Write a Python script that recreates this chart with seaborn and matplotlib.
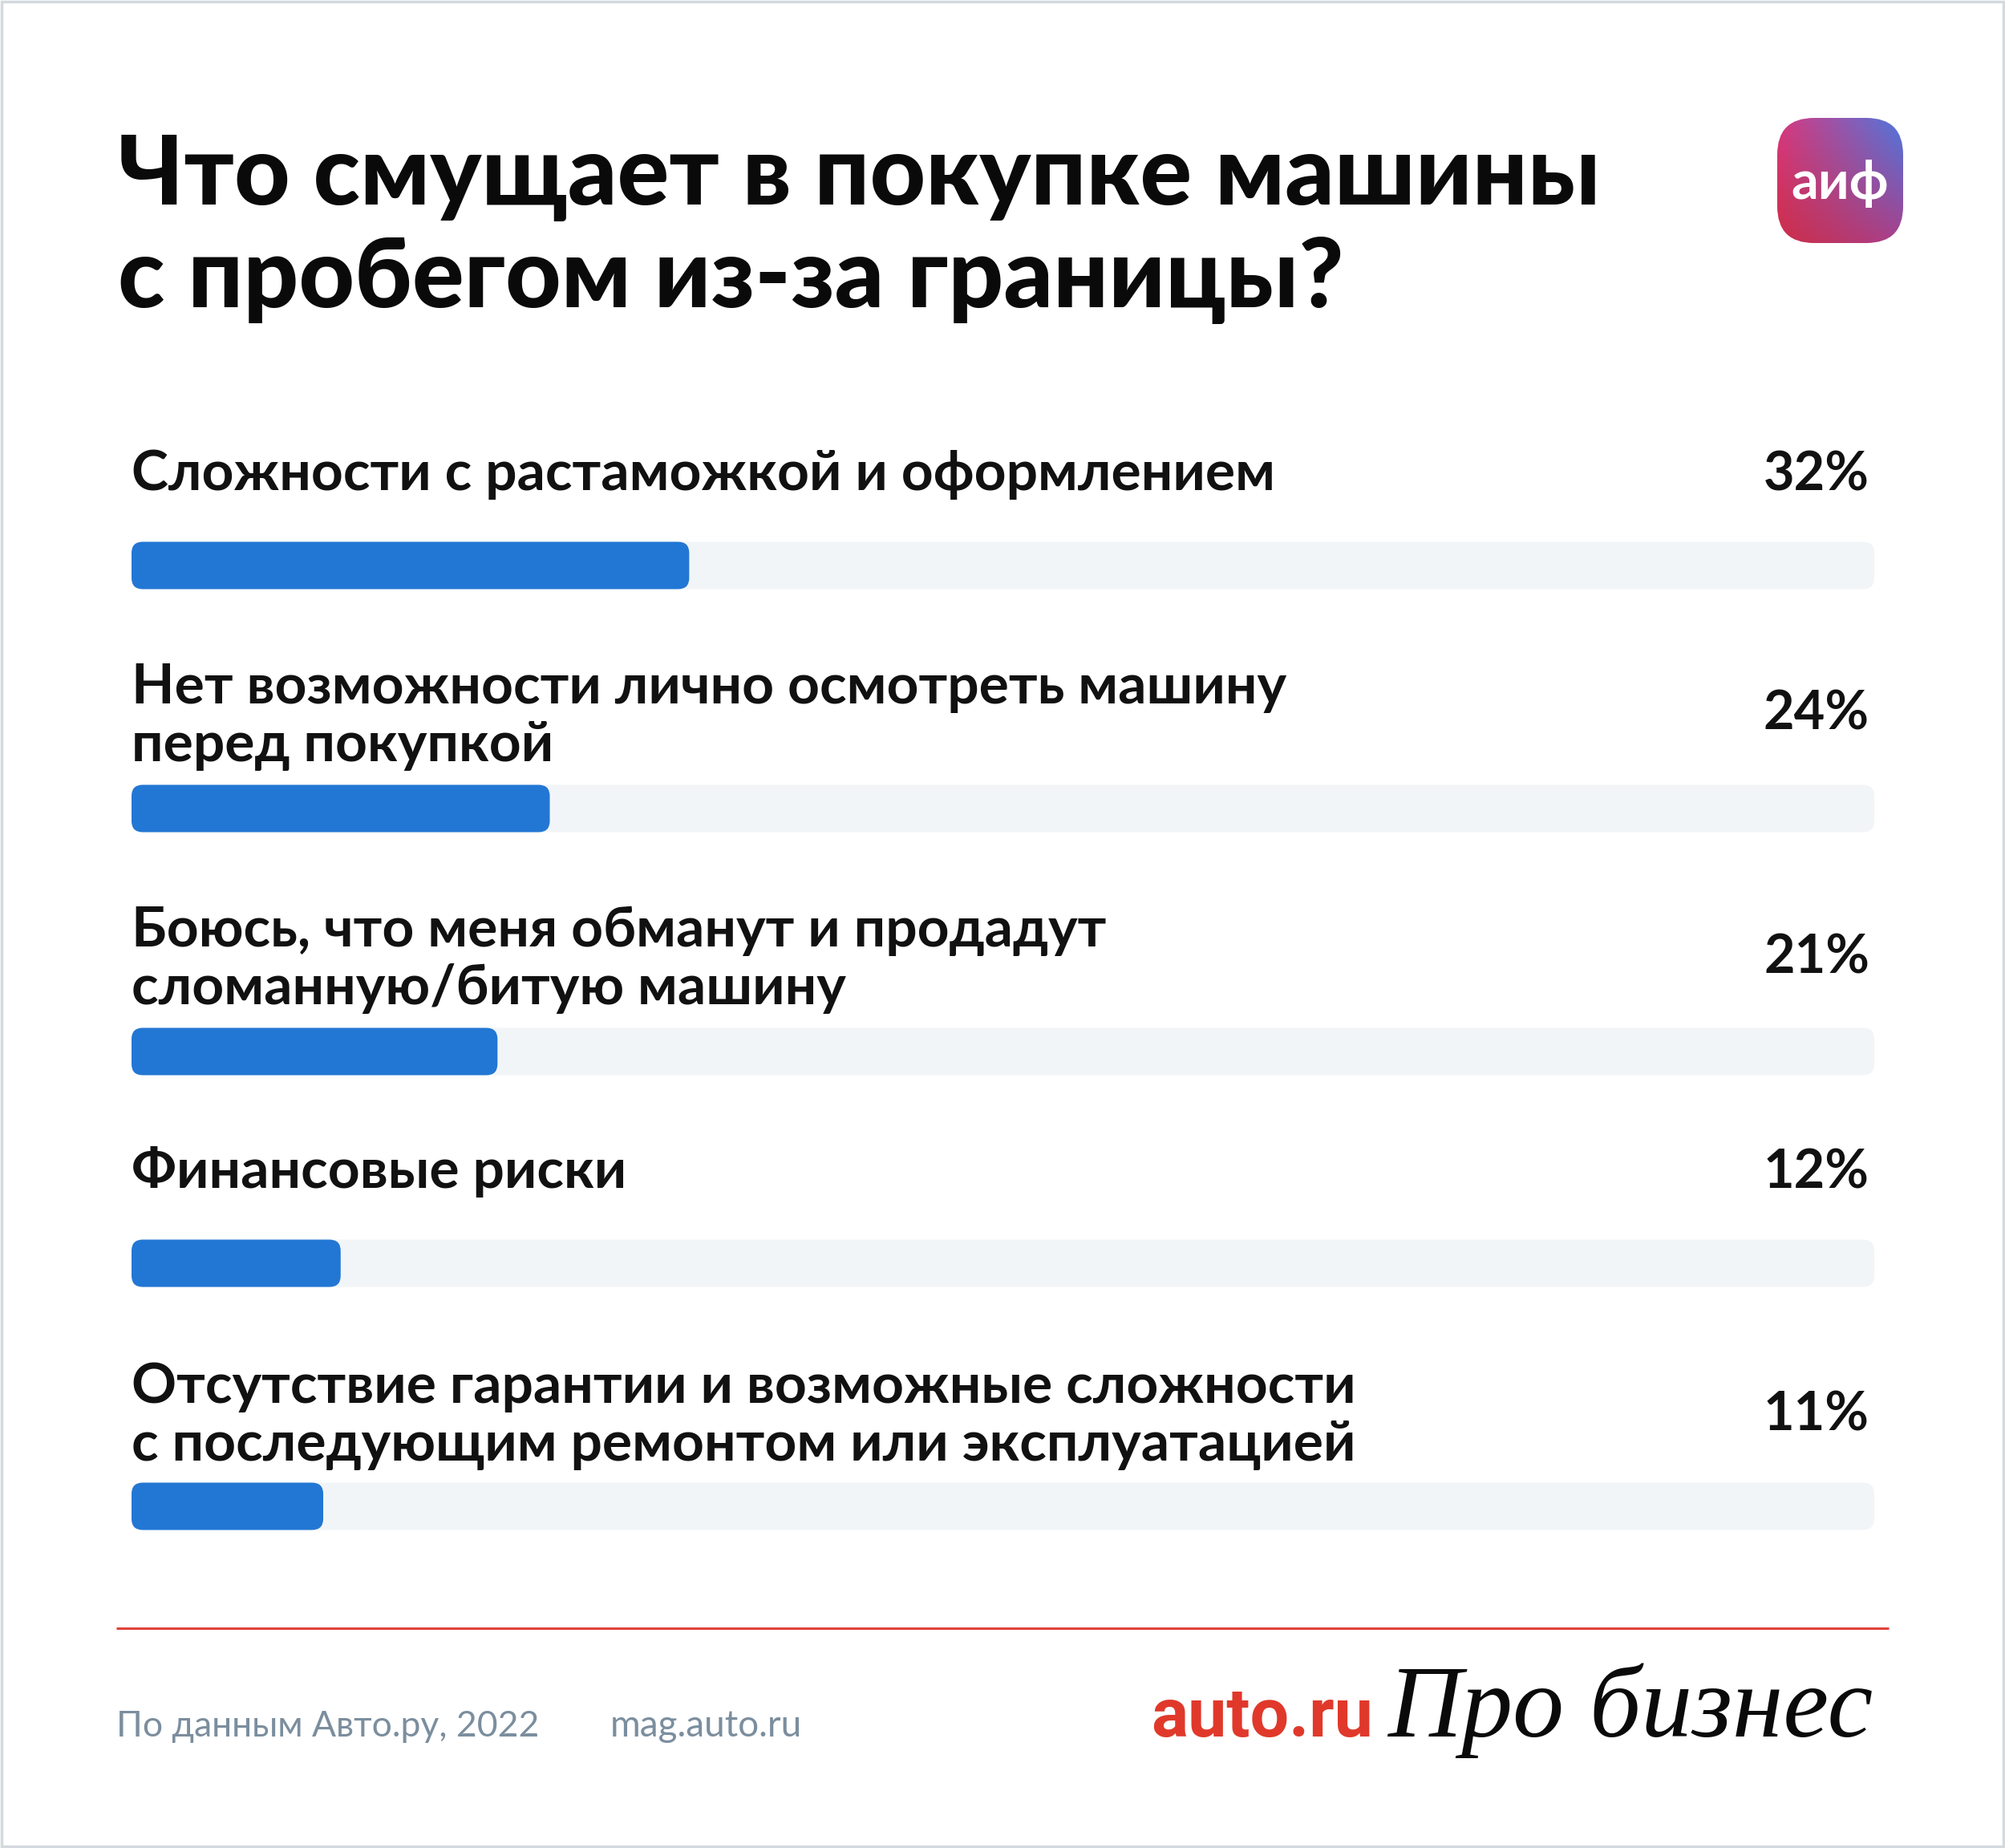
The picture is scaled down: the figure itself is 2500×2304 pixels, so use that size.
import numpy as np
import pandas as pd
import matplotlib
matplotlib.use("Agg")
import matplotlib.pyplot as plt
import seaborn as sns
from matplotlib.patches import FancyBboxPatch, Rectangle

# ---------------- data ----------------
title_lines = ["Что смущает в покупке машины", "с пробегом из-за границы?"]
categories = [
    "Сложности с растаможкой и оформлением",
    "Нет возможности лично осмотреть машину\nперед покупкой",
    "Боюсь, что меня обманут и продадут\nсломанную/битую машину",
    "Финансовые риски",
    "Отсутствие гарантии и возможные сложности\nс последующим ремонтом или эксплуатацией",
]
values = [32, 24, 21, 12, 11]
value_labels = ["32%", "24%", "21%", "12%", "11%"]
source_text = "По данным Авто.ру, 2022"
site_text = "mag.auto.ru"
brand_red = "auto.ru"
brand_script = "Про бизнес"
logo_text = "аиф"

# ---------------- style ----------------
sns.set_theme(style="white")
plt.rcParams["font.family"] = ["Lato", "DejaVu Sans"]

W, H = 2500, 2304
fig = plt.figure(figsize=(W / 100, H / 100), dpi=100)
fig.patch.set_facecolor("white")

ax0 = fig.add_axes([0, 0, 1, 1])
ax0.set_xlim(0, W)
ax0.set_ylim(H, 0)
ax0.set_axis_off()

BLUE = "#2277d4"
TRACK = "#f2f5f7"

# title
for i, line in enumerate(title_lines):
    ax0.text(147, 255 + i * 128, line, fontsize=87, fontweight="black",
             color="#0a0a0a", va="baseline", ha="left")

# logo
lx0, lx1, ly0, ly1 = 2216, 2373, 147, 303
logo_patch = FancyBboxPatch((lx0, ly0), lx1 - lx0, ly1 - ly0,
                            boxstyle="round,pad=0,rounding_size=46",
                            fc="none", ec="none")
ax0.add_patch(logo_patch)
n = 200
u = np.linspace(0, 1, n)[None, :, None]
v = np.linspace(0, 1, n)[:, None, None]
tl = np.array([0.85, 0.22, 0.50])
tr = np.array([0.30, 0.47, 0.87])
bl = np.array([0.80, 0.18, 0.28])
br = np.array([0.66, 0.25, 0.55])
grad = (1 - v) * ((1 - u) * tl + u * tr) + v * ((1 - u) * bl + u * br)
im = ax0.imshow(grad, extent=(lx0, lx1, ly1, ly0), aspect="auto",
                interpolation="bilinear", zorder=2)
im.set_clip_path(logo_patch)
ax0.set_xlim(0, W)
ax0.set_ylim(H, 0)
ax0.text((lx0 + lx1) / 2, (ly0 + ly1) / 2 + 4, logo_text, fontsize=48,
         fontweight="bold", color="white", ha="center", va="center", zorder=3)

# bars
track_x0, track_x1 = 164, 2337
track_centers = [705, 1008, 1311, 1575, 1878]
bar_h = 59
label_baselines = [611, 877, 1180, 1481, 1749]
pct_baselines = [611, 910, 1213, 1481, 1783]

df = pd.DataFrame({"category": categories, "value": values})

for i, row in df.iterrows():
    c = track_centers[i]
    bax = fig.add_axes([track_x0 / W, (H - c - bar_h / 2) / H,
                        (track_x1 - track_x0) / W, bar_h / H])
    sns.barplot(data=df.iloc[[i]], x="value", y="category", orient="h",
                color=BLUE, saturation=1, width=1.0, ax=bax)
    bax.set_xlim(0, 100)
    bax.set_ylim(0.5, -0.5)
    bax.set_axis_off()
    # track
    ax0.add_patch(FancyBboxPatch((track_x0, c - bar_h / 2), track_x1 - track_x0, bar_h,
                                 boxstyle="round,pad=0,rounding_size=14",
                                 fc=TRACK, ec="none", zorder=1))
    for p in list(bax.patches):
        x, y, w, h = p.get_x(), p.get_y(), p.get_width(), p.get_height()
        pts = bax.transData.transform([(x, y), (x + w, y + h)])
        pts = ax0.transData.inverted().transform(pts)
        px0, px1 = sorted(pts[:, 0])
        py0, py1 = sorted(pts[:, 1])
        ax0.add_patch(FancyBboxPatch((px0, py0), px1 - px0, py1 - py0,
                                     boxstyle="round,pad=0,rounding_size=14",
                                     fc=p.get_facecolor(), ec="none", zorder=2))
        p.set_visible(False)
    # labels
    for j, line in enumerate(row["category"].split("\n")):
        ax0.text(164, label_baselines[i] + j * 72, line, fontsize=50,
                 fontweight="bold", color="#111111", va="baseline", ha="left")
    ax0.text(2331, pct_baselines[i], value_labels[i], fontsize=48,
             fontweight="bold", color="#111111", va="baseline", ha="right")

# separator line
ax0.plot([145, 2355], [2030, 2030], color="#e0443c", lw=2.2, solid_capstyle="butt")

# footer
ax0.text(145, 2165, source_text, fontsize=32, color="#7b8e9e", va="baseline", ha="left")
ax0.text(761, 2165, site_text, fontsize=33, color="#7b8e9e", va="baseline", ha="left")
ax0.text(1435, 2165, brand_red, fontsize=62, fontweight="bold", color="#e0392b",
         va="baseline", ha="left", family=["Roboto", "DejaVu Sans"])
ax0.text(1730, 2165, brand_script, fontsize=92, style="italic", color="#0a0a0a",
         va="baseline", ha="left", family=["Liberation Serif", "DejaVu Serif"])

# frame
ax0.add_patch(Rectangle((2, 2), W - 4, H - 4, fc="none", ec="#d3d9de", lw=2.5, zorder=5))

fig.savefig("out.png", dpi=100, facecolor="white")
